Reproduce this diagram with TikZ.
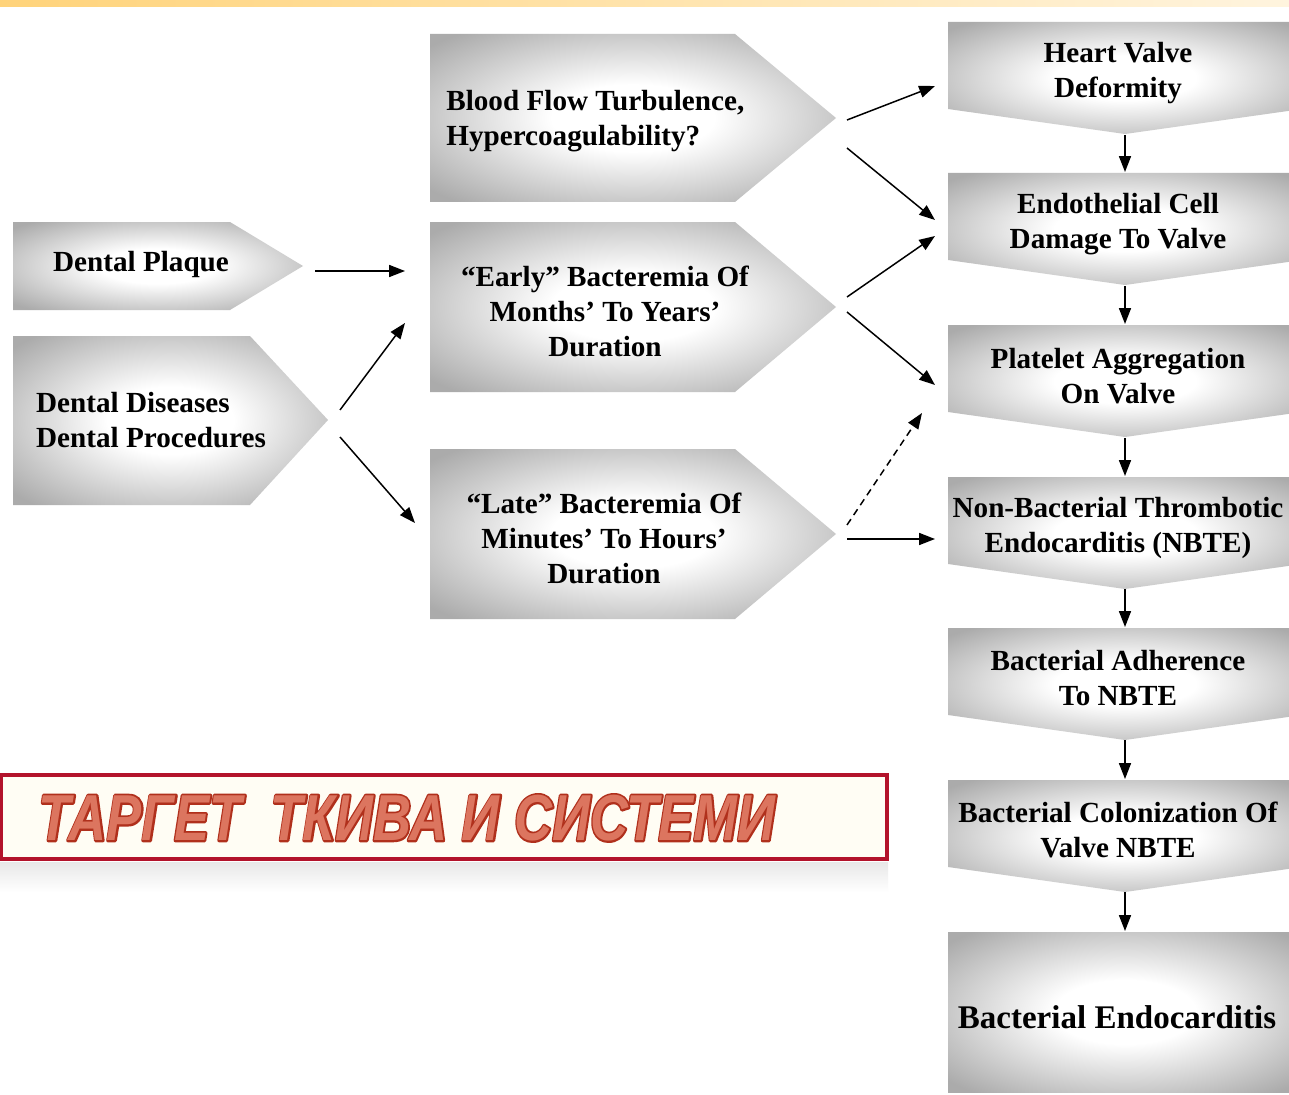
\documentclass[tikz,border=0pt]{standalone}
\usepackage{fontspec}
\setmainfont{Liberation Serif}
\newfontfamily\banthick{Liberation Sans}[FakeBold=6, BoldItalicFeatures={FakeBold=6}]
\newfontfamily\banthin{Liberation Sans}
\usetikzlibrary{arrows.meta,calc}
\definecolor{boxgray}{gray}{0.67}
\definecolor{banred}{HTML}{B3132B}
\definecolor{bancream}{HTML}{FFFDF4}
\definecolor{txtdark}{HTML}{B0301C}
\definecolor{txtlight}{HTML}{DC755F}
\definecolor{barL}{HTML}{FFD37A}
\definecolor{barR}{HTML}{FFF4DE}
\pgfdeclareradialshading{glow}{\pgfpoint{0bp}{0bp}}{color(0bp)=(white); color(10bp)=(white); color(33bp)=(boxgray); color(50bp)=(boxgray)}
\begin{document}
\begin{tikzpicture}[x=0.02cm,y=-0.02cm,
  box/.style={shading=glow},
  txt/.style={font=\fontsize{16.6}{19.9}\selectfont\bfseries, inner sep=0pt, align=center, yshift=-1.7pt},
  arr/.style={line width=0.85pt, -{Triangle[length=9pt,width=6.8pt]}},
  darr/.style={arr, dash pattern=on 4pt off 2.8pt}]
\useasboundingbox (0,0) rectangle (1289,1095);
\fill[white] (0,0) rectangle (1289,1095);
% top bar
\shade[left color=barL, right color=barR] (0,0) rectangle (1289,7);

% left pentagons
\path[box] (13,222) -- (230,222) -- (303,266) -- (230,310) -- (13,310) -- cycle;
\path[box] (13,336) -- (250,336) -- (328,420) -- (250,505) -- (13,505) -- cycle;
% middle pentagons
\path[box] (430,34) -- (735,34) -- (836,118) -- (735,202) -- (430,202) -- cycle;
\path[box] (430,222) -- (735,222) -- (836,307) -- (735,392) -- (430,392) -- cycle;
\path[box] (430,449) -- (735,449) -- (836,534) -- (735,619) -- (430,619) -- cycle;
% right column chevrons
\foreach \t in {22,173,325,477,628,780}{
  \path[box] (948,\t) -- (1302,\t) -- (1302,\t+87) -- (1125,\t+112) -- (948,\t+87) -- cycle;
}
\path[box] (948,932) rectangle (1302,1092);

% texts
\node[txt] (plaque) at (141,261) {Dental Plaque};
\node[txt, align=left] (diseases) at (151,417) {Dental Diseases\\Dental Procedures};
\node[txt, align=left, anchor=west] (blood) at (446,118) {Blood Flow Turbulence,\\Hypercoagulability?};
\node[txt] (early) at (605,308) {“Early” Bacteremia Of\\Months’ To Years’\\Duration};
\node[txt] (late) at (604,535) {“Late” Bacteremia Of\\Minutes’ To Hours’\\Duration};
\node[txt] (hv) at (1118,70) {Heart Valve\\Deformity};
\node[txt] (ec) at (1118,221) {Endothelial Cell\\Damage To Valve};
\node[txt] (pa) at (1118,373) {Platelet Aggregation\\On Valve};
\node[txt] (nbte) at (1118,525) {Non-Bacterial Thrombotic\\Endocarditis (NBTE)};
\node[txt] (ba) at (1118,675) {Bacterial Adherence\\To NBTE};
\node[txt] (bc) at (1118,827) {Bacterial Colonization Of\\Valve NBTE};
\node[txt, font=\fontsize{18.8}{22}\selectfont\bfseries] (be) at (1117,1014) {Bacterial Endocarditis};

% arrow end points
\coordinate (plaqueOut) at (315,271);   \coordinate (earlyInA) at (405,271);
\coordinate (disOutA) at (340,410);     \coordinate (earlyInB) at (405,323);
\coordinate (disOutB) at (340,437);     \coordinate (lateIn) at (415,523);
\coordinate (bloodOutA) at (847,120);   \coordinate (hvIn) at (935,86);
\coordinate (bloodOutB) at (847,148);   \coordinate (ecInA) at (935,220);
\coordinate (earlyOutA) at (847,297);   \coordinate (ecInB) at (935,236);
\coordinate (earlyOutB) at (847,312);   \coordinate (paInA) at (935,385);
\coordinate (lateOutA) at (847,525);    \coordinate (paInB) at (922,413);
\coordinate (lateOutB) at (847,539);    \coordinate (nbteIn) at (935,539);

\draw[arr] (plaqueOut) -- (earlyInA);
\draw[arr] (disOutA) -- (earlyInB);
\draw[arr] (disOutB) -- (lateIn);
\draw[arr] (bloodOutA) -- (hvIn);
\draw[arr] (bloodOutB) -- (ecInA);
\draw[arr] (earlyOutA) -- (ecInB);
\draw[arr] (earlyOutB) -- (paInA);
\draw[darr] (lateOutA) -- (paInB);
\draw[arr] (lateOutB) -- (nbteIn);

% vertical chain
\foreach \a/\b [count=\i] in {135/172,286/324,438/476,589/627,740/779,892/931}{
  \coordinate (vs\i) at (1125,\a);
  \coordinate (ve\i) at (1125,\b);
  \draw[arr] (vs\i) -- (ve\i);
}

% banner
\shade[top color=black!9, bottom color=white] (0,862) rectangle (888,892);
\draw[line width=1.8pt, draw=banred, fill=bancream] (1,775) rectangle (887,859);
\begin{scope}[line join=round, miter limit=1]
\node[inner sep=0pt] (banner) at (407,818) {\scalebox{0.81}[1]{\color{txtdark}\banthick\bfseries\itshape\fontsize{37}{40}\selectfont ТАРГЕТ\ \ ТКИВА И СИСТЕМИ}};
\node[inner sep=0pt] (bannerfill) at (banner.center) {\scalebox{0.81}[1]{\color{txtlight}\banthin\bfseries\itshape\fontsize{37}{40}\selectfont ТАРГЕТ\ \ ТКИВА И СИСТЕМИ}};
\end{scope}
\end{tikzpicture}
\end{document}
